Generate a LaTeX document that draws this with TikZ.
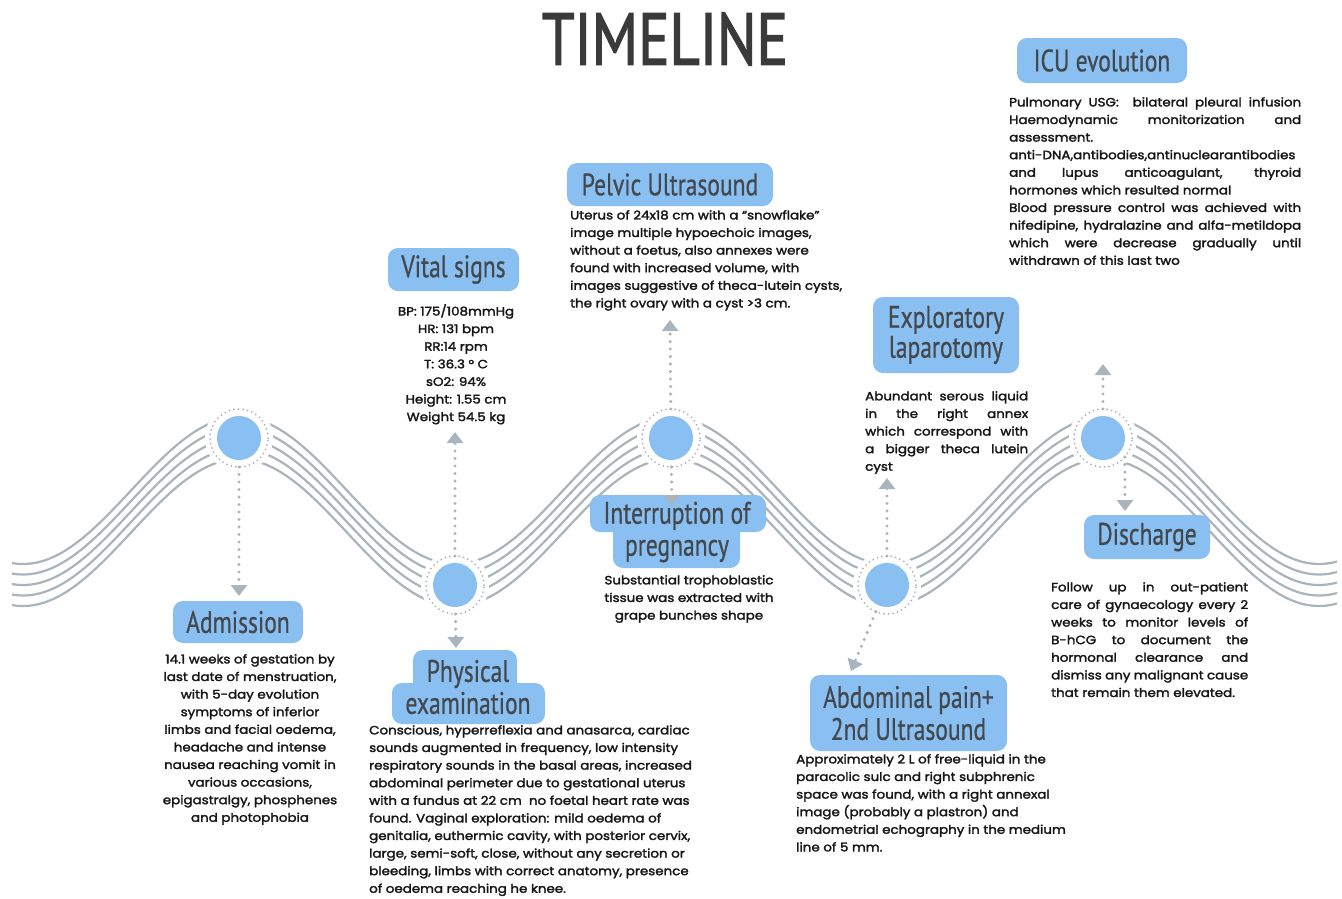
\documentclass[tikz,border=0pt]{standalone}
\usepackage{fontspec}
\usetikzlibrary{arrows.meta}
\newfontfamily\bodyfont{Poppins}[FakeBold=2.2, FakeStretch=1.12]
\newfontfamily\hfont{PT Sans}[FakeStretch=0.76, FakeBold=0.6]
\newfontfamily\tfont{PT Sans}[FakeBold=2]
\definecolor{wavegray}{HTML}{AAB4BC}
\definecolor{boxblue}{HTML}{8ABFF2}
\definecolor{headgray}{HTML}{43484D}
\definecolor{textblack}{HTML}{161616}
\definecolor{titlegray}{HTML}{3A3A3A}
\newcommand\jl[2]{\makebox[#1][s]{#2}}
\tikzset{
  wave/.style={draw=wavegray, line width=2.2pt},
  ring/.style={circle, minimum size=58pt, inner sep=0pt, outer sep=0pt, fill=white,
    draw=wavegray, line width=2pt, dash pattern=on 0pt off 4.6pt, line cap=round},
  conn/.style={draw=wavegray, line width=3.4pt, line cap=round, dash pattern=on 0pt off 7.5pt,
    -{Triangle[width=16pt,length=11pt]}},
  hbox/.style={fill=boxblue, rounded corners=10pt, text=headgray, inner sep=0pt,
    font=\hfont\fontsize{31}{31}\selectfont, align=center},
  lobe/.style={fill=boxblue, rounded corners=10pt},
  htext/.style={text=headgray, inner sep=0pt, font=\hfont\fontsize{31}{32}\selectfont, align=center},
  body/.style={text=textblack, inner sep=0pt, font=\bodyfont\fontsize{12}{17.6}\selectfont},
}
\begin{document}
\begin{tikzpicture}[x=1pt,y=-1pt]
\useasboundingbox[fill=white] (0,0) rectangle (1342,898);
% title
\node[text=titlegray, inner sep=0pt] (title) at (665,39) {\resizebox{246pt}{52pt}{\tfont TIMELINE}};
% wave
\foreach \k in {-21,-10.5,0,10.5,21}
  \draw[wave] plot[domain=12:1337,samples=400] (\x,{511.5-73.5*cos((\x-239)*0.833333)+\k});
% circles
\foreach \n/\cx/\cy in {c1/239/438, c2/455/585, c3/671/438, c4/887/585, c5/1103/438}{
  \fill[white] (\cx,\cy) circle (34pt);
  \node[ring] (\n) at (\cx,\cy) {};
  \fill[boxblue] (\n.center) circle (22pt);
}
% header boxes
\node[hbox, minimum width=130pt, minimum height=42pt] (adm) at (238,622) {Admission};
\node[hbox, minimum width=131pt, minimum height=43pt] (vit) at (453.5,269.5) {Vital signs};
\node[hbox, minimum width=206pt, minimum height=43pt] (pel) at (670,184.5) {Pelvic Ultrasound};
\node[hbox, minimum width=170pt, minimum height=45pt] (icu) at (1102,60.5) {ICU evolution};
\node[hbox, minimum width=126pt, minimum height=44pt] (dis) at (1147,537) {Discharge};
\node[hbox, minimum width=146pt, minimum height=76pt, font=\hfont\fontsize{31}{30}\selectfont] (exp) at (946,335) {Exploratory\\laparotomy};
\node[hbox, minimum width=197pt, minimum height=76pt, font=\hfont\fontsize{31}{32}\selectfont] (abd) at (908.5,713) {Abdominal pain+\\2nd Ultrasound};
% two-lobe boxes
\fill[lobe] (590,495) rectangle (766,532);
\fill[lobe] (613,520) rectangle (740,568);
\node[htext] (int) at (677,532) {Interruption of\\pregnancy};
\fill[lobe] (413,650) rectangle (517,692);
\fill[lobe] (392,683) rectangle (545,724);
\node[htext] (phy) at (468,687) {Physical\\examination};
% body texts
\node[body, align=center, anchor=north] (admt) at (250,654) {14.1 weeks of gestation by\\last date of menstruation,\\with 5-day evolution\\symptoms of inferior\\limbs and facial oedema,\\headache and intense\\nausea reaching vomit in\\various occasions,\\epigastralgy, phosphenes\\and photophobia};
\node[body, align=center, anchor=north] (vitt) at (456,304) {BP: 175/108mmHg\\HR: 131 bpm\\RR:14 rpm\\T: 36.3 ° C\\sO2: 94\%\\Height: 1.55 cm\\Weight 54.5 kg};
\node[body, align=left, anchor=north west] (phyt) at (369,725) {Conscious, hyperreflexia and anasarca, cardiac\\sounds augmented in frequency, low intensity\\respiratory sounds in the basal areas, increased\\abdominal perimeter due to gestational uterus\\with a fundus at 22 cm\ \ no foetal heart rate was\\found. Vaginal exploration: mild oedema of\\genitalia, euthermic cavity, with posterior cervix,\\large, semi-soft, close, without any secretion or\\bleeding, limbs with correct anatomy, presence\\of oedema reaching he knee.};
\node[body, align=left, anchor=north west] (pelt) at (570,210) {Uterus of 24x18 cm with a “snowflake”\\image multiple hypoechoic images,\\without a foetus, also annexes were\\found with increased volume, with\\images suggestive of theca-lutein cysts,\\the right ovary with a cyst >3 cm.};
\node[body, align=center, anchor=north] (intt) at (689,575) {Substantial trophoblastic\\tissue was extracted with\\grape bunches shape};
\node[body, align=left, anchor=north west] (expt) at (865,391) {\jl{163pt}{Abundant serous liquid}\\\jl{163pt}{in the right annex}\\\jl{163pt}{which correspond with}\\\jl{163pt}{a bigger theca lutein}\\cyst};
\node[body, align=left, anchor=north west] (abdt) at (796,754) {Approximately 2 L of free-liquid in the\\paracolic sulc and right subphrenic\\space was found, with a right annexal\\image (probably a plastron) and\\endometrial echography in the medium\\line of 5 mm.};
\node[body, align=left, anchor=north west] (icut) at (1009,97) {\jl{292pt}{Pulmonary USG:\ \ bilateral pleural infusion}\\\jl{292pt}{Haemodynamic monitorization and}\\assessment.\\\jl{292pt}{anti-DNA,antibodies,antinuclearantibodies}\\\jl{292pt}{and lupus anticoagulant, thyroid}\\hormones which resulted normal\\\jl{292pt}{Blood pressure control was achieved with}\\\jl{292pt}{nifedipine, hydralazine and alfa-metildopa}\\\jl{292pt}{which were decrease gradually until}\\withdrawn of this last two};
\node[body, align=left, anchor=north west] (dist) at (1051,582) {\jl{197pt}{Follow up in out-patient}\\\jl{197pt}{care of gynaecology every 2}\\\jl{197pt}{weeks to monitor levels of}\\\jl{197pt}{B-hCG to document the}\\\jl{197pt}{hormonal clearance and}\\\jl{197pt}{dismiss any malignant cause}\\that remain them elevated.};
% connectors
\coordinate (t1) at (239,596);
\coordinate (t2u) at (455,432);
\coordinate (t2d) at (456,648);
\coordinate (t3u) at (670,320);
\coordinate (t3d) at (672,506);
\coordinate (t4u) at (887,478);
\coordinate (t4d) at (851,671);
\coordinate (t5u) at (1103,364);
\coordinate (t5d) at (1125,511);
\draw[conn] (c1) -- (t1);
\draw[conn] (c2) -- (t2u);
\draw[conn] (c2) -- (t2d);
\draw[conn] (c3) -- (t3u);
\draw[conn] (c3) -- (t3d);
\draw[conn] (c4) -- (t4u);
\draw[conn] (c4) -- (t4d);
\draw[conn] (c5) -- (t5u);
\draw[conn] (c5.-41) -- (t5d);
\end{tikzpicture}
\end{document}
